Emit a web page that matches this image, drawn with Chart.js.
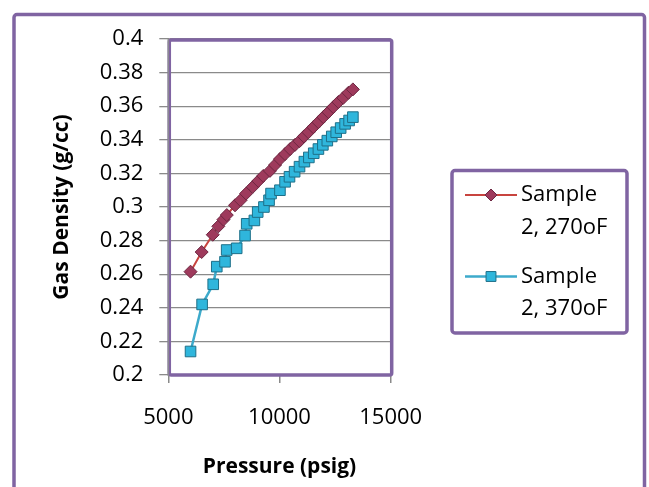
<!DOCTYPE html>
<html>
<head>
<meta charset="utf-8">
<script src="https://cdn.jsdelivr.net/npm/chart.js@4/dist/chart.umd.min.js"></script>
<style>
  html, body { margin: 0; padding: 0; background: #ffffff; }
  #c { display: block; }
</style>
</head>
<body>
<canvas id="c" width="649" height="487"></canvas>
<script>
// ---- data ----
const seriesLabels = ['Sample 2, 270oF', 'Sample 2, 370oF'];

const pressure270 = [6000, 6500, 7000, 7250, 7480, 7630, 8000, 8250, 8500, 8800, 9050, 9270, 9570, 9800, 10020, 10250, 10480, 10700, 10900, 11100, 11300, 11520, 11750, 11970, 12200, 12420, 12650, 12870, 13100, 13300];
const density270  = [0.2615, 0.2732, 0.2835, 0.2885, 0.2925, 0.2952, 0.301, 0.304, 0.308, 0.312, 0.3155, 0.3185, 0.3215, 0.325, 0.3285, 0.3315, 0.3345, 0.337, 0.3392, 0.342, 0.3445, 0.3475, 0.3505, 0.3535, 0.3565, 0.3595, 0.3625, 0.365, 0.368, 0.370];

const pressure370 = [6000, 6520, 7020, 7180, 7550, 7625, 8075, 8450, 8525, 8870, 9020, 9300, 9530, 9620, 10020, 10250, 10450, 10680, 10900, 11120, 11320, 11540, 11750, 11950, 12150, 12350, 12550, 12750, 12950, 13130, 13300];
const density370  = [0.214, 0.242, 0.254, 0.2645, 0.2674, 0.2744, 0.2754, 0.283, 0.290, 0.292, 0.297, 0.300, 0.304, 0.308, 0.310, 0.315, 0.318, 0.321, 0.324, 0.327, 0.3295, 0.332, 0.3345, 0.337, 0.3395, 0.342, 0.3445, 0.347, 0.3495, 0.3515, 0.3535];

const xTicks = [5000, 10000, 15000];
const yTicks = [0.2, 0.22, 0.24, 0.26, 0.28, 0.3, 0.32, 0.34, 0.36, 0.38, 0.4];

const xTitle = 'Pressure (psig)';
const yTitle = 'Gas Density (g/cc)';

// ---- styling ----
const PURPLE = '#8064A2';
const GRID = '#8a8a8a';
const FONT = '"Open Sans", "Liberation Sans", sans-serif';

const toPoints = (xs, ys) => xs.map((x, i) => ({ x: x, y: ys[i] }));

const framePlugin = {
  id: 'frames',
  beforeDraw(chart) {
    const ctx = chart.ctx;
    ctx.save();
    ctx.fillStyle = '#ffffff';
    ctx.fillRect(0, 0, chart.width, chart.height);
    ctx.strokeStyle = PURPLE;
    ctx.lineWidth = 3.5;
    ctx.beginPath();
    ctx.roundRect(14, 14.5, 630.5, 530, 3);
    ctx.stroke();
    ctx.restore();
  },
  beforeDatasetsDraw(chart) {
    const ctx = chart.ctx;
    const a = chart.chartArea;
    ctx.save();
    ctx.strokeStyle = PURPLE;
    ctx.lineWidth = 3.5;
    ctx.beginPath();
    ctx.roundRect(a.left + 1, a.top + 1, a.right - a.left, a.bottom - a.top - 1, 2);
    ctx.stroke();
    ctx.strokeStyle = '#8c8a92';
    ctx.lineWidth = 1.5;
    ctx.beginPath();
    ctx.moveTo(a.left, a.top);
    ctx.lineTo(a.left, a.bottom + 1);
    ctx.stroke();
    ctx.restore();
  }
};

const legendPlugin = {
  id: 'boxLegend',
  afterDraw(chart) {
    const ctx = chart.ctx;
    ctx.save();
    ctx.strokeStyle = PURPLE;
    ctx.lineWidth = 3.5;
    ctx.beginPath();
    ctx.roundRect(452, 170.5, 175, 162.5, 3);
    ctx.stroke();
    chart.data.datasets.forEach((ds, i) => {
      const cy = 195 + i * 81.5;
      ctx.strokeStyle = ds.borderColor;
      ctx.lineWidth = ds.borderWidth;
      ctx.beginPath();
      ctx.moveTo(465, cy);
      ctx.lineTo(517, cy);
      ctx.stroke();
      ctx.fillStyle = ds.pointBackgroundColor;
      ctx.strokeStyle = ds.pointBorderColor;
      ctx.lineWidth = ds.pointBorderWidth;
      Chart.helpers.drawPoint(ctx, { pointStyle: ds.pointStyle, radius: ds.pointRadius - 0.5, borderWidth: ds.pointBorderWidth, rotation: 0 }, 491, cy);
      const sp = ds.label.indexOf(' ');
      const lines = [ds.label.slice(0, sp), ds.label.slice(sp + 1)];
      ctx.fillStyle = '#000';
      ctx.font = '22px ' + FONT;
      ctx.textAlign = 'left';
      ctx.textBaseline = 'middle';
      lines.forEach((t, j) => ctx.fillText(t, 521, cy + j * 32.5));
    });
    ctx.restore();
  }
};

new Chart(document.getElementById('c'), {
  type: 'scatter',
  data: {
    datasets: [
      {
        label: seriesLabels[0],
        data: toPoints(pressure270, density270),
        showLine: true,
        tension: 0,
        borderColor: '#C8443F',
        borderWidth: 2,
        pointStyle: 'rectRot',
        pointRadius: 6.5,
        pointBackgroundColor: '#9E3A5C',
        pointBorderColor: '#6E2742',
        pointBorderWidth: 1
      },
      {
        label: seriesLabels[1],
        data: toPoints(pressure370, density370),
        showLine: true,
        tension: 0,
        borderColor: '#3DAACB',
        borderWidth: 2.5,
        pointStyle: 'rect',
        pointRadius: 7.5,
        pointBackgroundColor: '#2FB6DC',
        pointBorderColor: '#1E6F88',
        pointBorderWidth: 1
      }
    ]
  },
  options: {
    responsive: false,
    animation: false,
    devicePixelRatio: 1,
    layout: { padding: { left: 0, top: 39, right: 258.3, bottom: 0 } },
    plugins: { legend: { display: false }, tooltip: { enabled: false } },
    scales: {
      x: {
        type: 'linear',
        min: 5000, max: 15000,
        afterBuildTicks: s => { s.ticks = xTicks.map(v => ({ value: v })); },
        afterFit: s => { s.height = 112; },
        grid: { drawOnChartArea: false, drawTicks: true, tickLength: 8, color: GRID, tickColor: GRID, lineWidth: 1.5 },
        border: { display: true, color: GRID, width: 1.5 },
        ticks: { color: '#000', font: { family: FONT, size: 22 }, padding: 22, maxRotation: 0, autoSkip: false,
                 callback: v => String(v) },
        title: { display: true, text: xTitle, color: '#000', font: { family: FONT, size: 21, weight: 'bold' }, padding: { top: 0, bottom: 7 } }
      },
      y: {
        type: 'linear',
        min: 0.2, max: 0.4,
        afterBuildTicks: s => { s.ticks = yTicks.map(v => ({ value: v })); },
        afterFit: s => { s.width = 168.3; },
        grid: { drawOnChartArea: true, drawTicks: true, tickLength: 9, color: GRID, tickColor: GRID, lineWidth: 1.3 },
        border: { display: true, color: GRID, width: 1.5 },
        ticks: { color: '#000', font: { family: FONT, size: 22 }, padding: 16, autoSkip: false,
                 callback: v => String(Number(v.toFixed(2))) },
        title: { display: true, text: yTitle, color: '#000', font: { family: FONT, size: 21, weight: 'bold' }, padding: { top: 49, bottom: 0 } }
      }
    }
  },
  plugins: [framePlugin, legendPlugin]
});
</script>
</body>
</html>
